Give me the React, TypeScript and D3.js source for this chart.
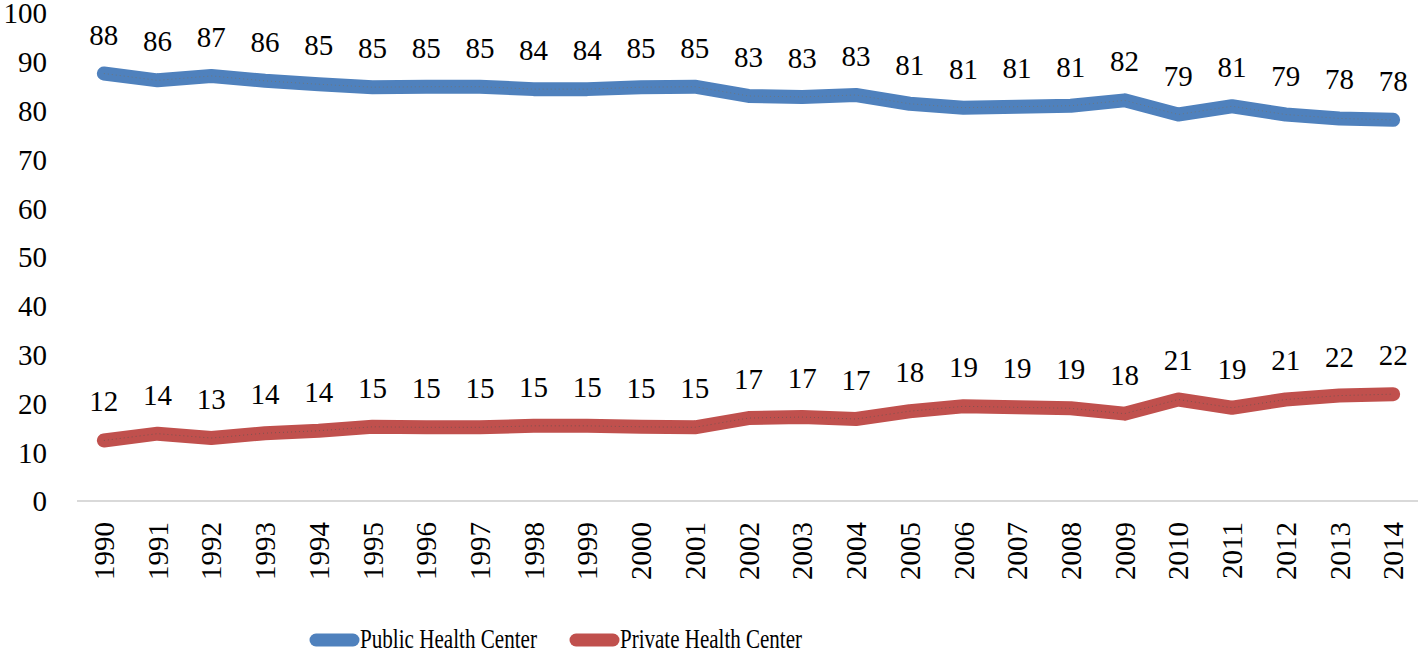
import React from "react";
import * as d3 from "d3";

const years = ["1990","1991","1992","1993","1994","1995","1996","1997","1998","1999","2000","2001","2002","2003","2004","2005","2006","2007","2008","2009","2010","2011","2012","2013","2014"];
const publicVals = [87.6,86.2,87.1,86.1,85.4,84.8,84.9,84.9,84.4,84.4,84.8,84.9,83.0,82.8,83.2,81.4,80.6,80.8,81.0,82.1,79.2,80.9,79.2,78.4,78.1];
const privateVals = [12.4,13.8,12.9,13.9,14.4,15.2,15.1,15.1,15.4,15.4,15.2,15.1,17.0,17.2,16.8,18.4,19.4,19.2,19.0,17.9,20.8,19.1,20.8,21.6,21.9];
const yTicks = [0,10,20,30,40,50,60,70,80,90,100];
const seriesNames = ["Public Health Center", "Private Health Center"];
const colors = ["#4F81BD", "#C0504D"];

export default function App() {
  const W = 1418, H = 653;
  const x = d3.scaleBand<string>().domain(years).range([77, 1420]);
  const y = d3.scaleLinear().domain([0, 100]).range([501, 13]);
  const font = "'Liberation Serif', 'DejaVu Serif', 'Noto Serif', serif";
  const line = d3.line<number>()
    .x((_, i) => (x(years[i]) as number) + x.bandwidth() / 2)
    .y((d) => y(d));
  const series = [publicVals, privateVals];
  const legendW = [177, 182];
  return (
    <svg width={W} height={H} style={{ position: "absolute", left: 0, top: 0, background: "#fff", fontFamily: font }}>
      <line x1={77} x2={1418} y1={y(0)} y2={y(0)} stroke="#d9d9d9" strokeWidth={2} />
      {yTicks.map((t) => (
        <text key={t} x={47} y={y(t)} dy="0.36em" textAnchor="end" fontSize={29} fill="#000" style={{ fontFamily: font }}>{t}</text>
      ))}
      {years.map((yr) => {
        const cx = (x(yr) as number) + x.bandwidth() / 2;
        return (
          <text key={yr} transform={`translate(${cx},522) rotate(-90)`} textAnchor="end" dy="0.35em" fontSize={29} fill="#000" style={{ fontFamily: font }}>{yr}</text>
        );
      })}
      {series.map((vals, si) => (
        <g key={si}>
          <path d={line(vals) as string} fill="none" stroke={colors[si]} strokeWidth={14} strokeLinecap="round" strokeLinejoin="round" />
          <path d={line(vals) as string} fill="none" stroke={si === 0 ? "#8a6a3a" : "#2f5050"} strokeOpacity={0.45} strokeWidth={1} strokeDasharray="1 3" />
          {vals.map((v, i) => (
            <text key={i} x={(x(years[i]) as number) + x.bandwidth() / 2} y={y(v) - 29} textAnchor="middle" fontSize={29} fill="#000" style={{ fontFamily: font }}>{Math.round(v)}</text>
          ))}
        </g>
      ))}
      {seriesNames.map((n, i) => {
        const lx = i === 0 ? 310 : 570;
        return (
          <g key={n}>
            <line x1={lx + 6} x2={lx + 43} y1={640} y2={640} stroke={colors[i]} strokeWidth={13} strokeLinecap="round" />
            <text x={lx + 50} y={648} fontSize={28} fill="#000" textLength={legendW[i]} lengthAdjust="spacingAndGlyphs" style={{ fontFamily: font }}>{n}</text>
          </g>
        );
      })}
    </svg>
  );
}
